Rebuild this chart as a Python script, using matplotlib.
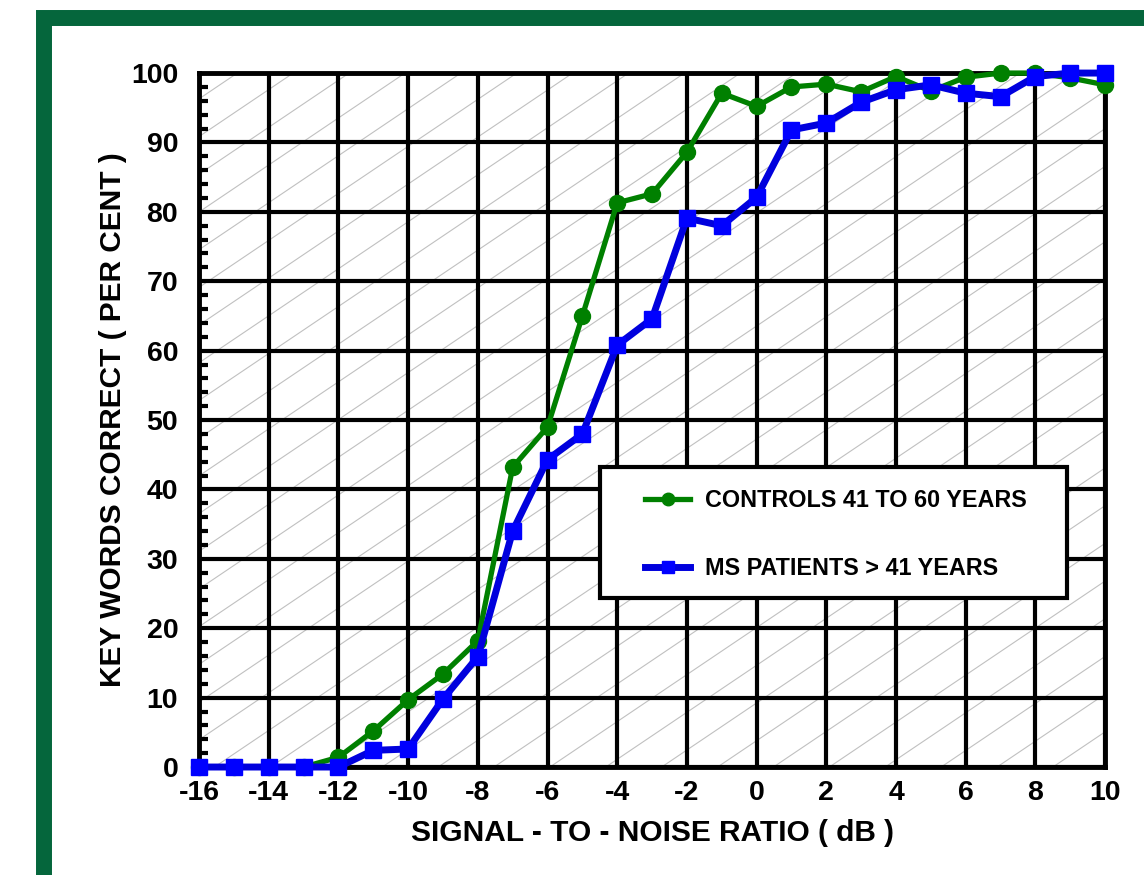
"""Key words correct vs signal-to-noise ratio, controls vs MS patients."""

import numpy as np
import matplotlib
matplotlib.use("Agg")
import matplotlib.pyplot as plt
from matplotlib.patches import Rectangle
from matplotlib.lines import Line2D

# Data
snr_db = list(range(-16, 11))
controls = [0, 0, 0, 0, 1.4, 5.2, 9.7, 13.4, 18.2, 43.2, 49.0, 65.0, 81.3, 82.6,
            88.6, 97.1, 95.2, 98.0, 98.4, 97.3, 99.5, 97.4, 99.4, 100, 100, 99.3, 98.3]
ms_patients = [0, 0, 0, 0, 0, 2.4, 2.6, 9.8, 15.9, 34.0, 44.3, 48.0, 60.8, 64.6,
               79.1, 78.0, 82.1, 91.8, 92.8, 95.8, 97.6, 98.3, 97.1, 96.6, 99.5, 100, 100]
labels = ["CONTROLS 41 TO 60 YEARS", "MS PATIENTS > 41 YEARS"]

# Colours
FRAME_GREEN = '#05663c'
LINE_GREEN = '#008000'
LINE_BLUE = '#0000dd'
MARK_BLUE = '#0000ff'
HATCH_GRAY = '#c0c0c0'

plt.rcParams['font.family'] = ['Liberation Sans', 'DejaVu Sans']
plt.rcParams['font.weight'] = 'bold'
plt.rcParams['axes.unicode_minus'] = False

fig = plt.figure(figsize=(11.44, 8.75), dpi=100)
fig.set_facecolor('white')

# Thick green frame around the figure (runs off the right and bottom edge)
fig.add_artist(Rectangle((0.0385, -0.0023), 0.976, 0.9817, transform=fig.transFigure,
                         facecolor='none', edgecolor=FRAME_GREEN, linewidth=11.5,
                         clip_on=False))

ax = fig.add_axes([0.174, 0.1234, 0.792, 0.7931])
ax.set_xlim(-16, 10)
ax.set_ylim(0, 100)

# Light diagonal background hatching, ~34 deg on screen
px_x = 906 / 26.0   # pixels per dB
px_y = 694 / 100.0  # pixels per percent
slope = np.tan(np.radians(34)) * px_x / px_y
step = 37.7 / px_y
x0, y0 = -15.68, 86.5
c0 = y0 - slope * x0
for c in np.arange(c0 - step * 60, c0 + step * 25, step):
    ax.axline((0, c), slope=slope, color=HATCH_GRAY, linewidth=0.8, zorder=0.5)

# Heavy black grid
ax.set_xticks(range(-16, 11, 2))
ax.set_yticks(range(0, 101, 10))
ax.set_yticks(range(0, 101, 2), minor=True)
ax.grid(True, which='major', color='black', linewidth=3, zorder=1)
ax.set_axisbelow(True)
for spine in ax.spines.values():
    spine.set_linewidth(3.5)
    spine.set_zorder(2)

ax.tick_params(axis='x', which='major', length=0, pad=9, labelsize=20.5)
ax.tick_params(axis='y', which='major', length=0, pad=15, labelsize=20.5)
ax.tick_params(axis='y', which='minor', direction='in', length=6.5, width=3)
ax.tick_params(axis='x', which='minor', length=0)
for lab in ax.get_xticklabels() + ax.get_yticklabels():
    lab.set_fontweight('bold')

ax.set_xlabel("SIGNAL - TO - NOISE RATIO ( dB )", fontsize=21.5, fontweight='bold', labelpad=10)
ax.set_ylabel("KEY WORDS CORRECT ( PER CENT )", fontsize=21.5, fontweight='bold', labelpad=3)

# Data series
ax.plot(snr_db, controls, color=LINE_GREEN, linewidth=3.8, marker='o', markersize=11.5,
        markerfacecolor=LINE_GREEN, markeredgecolor=LINE_GREEN, zorder=5, clip_on=False)
ax.plot(snr_db, ms_patients, color=LINE_BLUE, linewidth=5, marker='s', markersize=11,
        markerfacecolor=MARK_BLUE, markeredgecolor=MARK_BLUE, zorder=6, clip_on=False)

# Legend: white box with a thick black border, entries placed inside
ax.add_patch(Rectangle((0.4426, 0.2435), 0.5154, 0.189, transform=ax.transAxes,
                       facecolor='white', edgecolor='black', linewidth=3, zorder=3))
handles = [
    Line2D([], [], color=LINE_GREEN, linewidth=3.8, marker='o', markersize=9,
           markerfacecolor=LINE_GREEN, markeredgecolor=LINE_GREEN),
    Line2D([], [], color=LINE_BLUE, linewidth=5, marker='s', markersize=9,
           markerfacecolor=MARK_BLUE, markeredgecolor=MARK_BLUE),
]
leg = ax.legend(handles, labels, loc='center left', bbox_to_anchor=(0.4923, 0.335),
                frameon=False, borderpad=0, borderaxespad=0, handlelength=1.93,
                handletextpad=0.64, labelspacing=1.9, numpoints=1,
                prop={'size': 16.8, 'weight': 'bold'})
leg.set_zorder(7)

fig.savefig('out.png', dpi=100, facecolor='white')
